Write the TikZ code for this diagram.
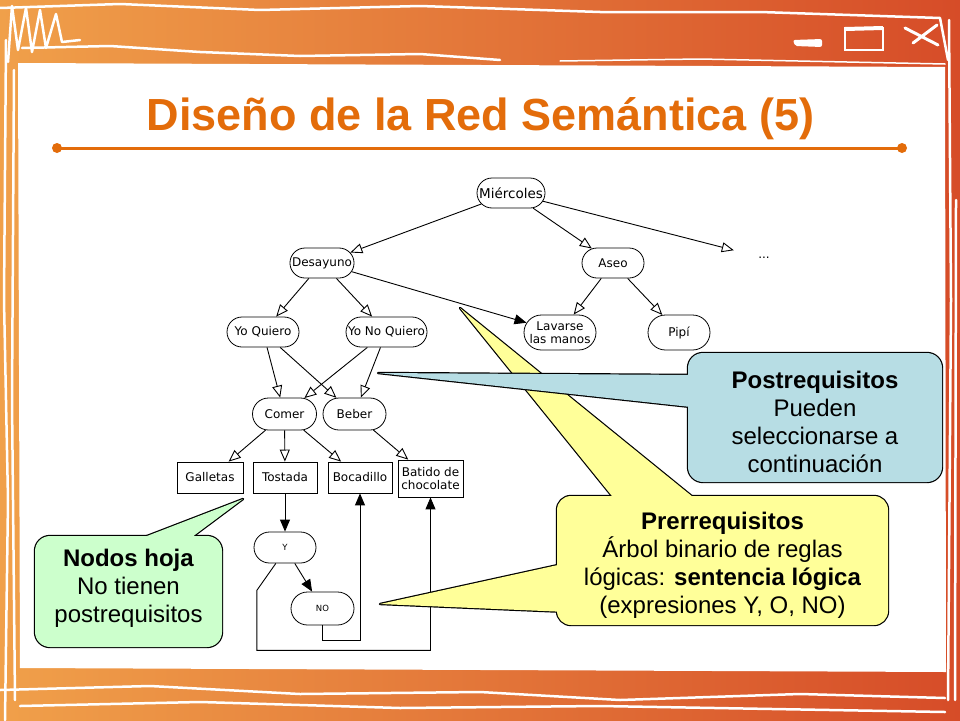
\documentclass[tikz,border=0pt]{standalone}
\usepackage{fontspec}
\setmainfont{Liberation Sans}
\newfontfamily\verdana{DejaVu Sans}
\usetikzlibrary{arrows.meta,shapes.misc}
\definecolor{naranja}{RGB}{227,108,10}
\definecolor{fondoizq}{RGB}{240,160,74}
\definecolor{fondomed}{RGB}{226,98,48}
\definecolor{fondoder}{RGB}{214,76,40}
\definecolor{amarillo}{RGB}{255,255,153}
\definecolor{celeste}{RGB}{183,221,228}
\definecolor{verdeclaro}{RGB}{204,255,204}

\begin{document}
\begin{tikzpicture}[x=1pt, y=-1pt,
	concepto/.style={rounded rectangle, draw, line width=0.8pt, inner sep=1pt, minimum height=30pt, align=center, font={\verdana\fontsize{12}{13.5}\selectfont}},
	hoja/.style={rectangle, draw, line width=0.8pt, inner sep=1pt, minimum height=31pt, align=center, font={\verdana\fontsize{12}{13.5}\selectfont}},
	logico/.style={concepto, font={\verdana\fontsize{8.5}{10}\selectfont}},
	hueca/.style={line width=0.9pt, -{Triangle[fill=white, length=12pt, width=10pt]}},
	llena/.style={line width=0.9pt, -{Triangle[length=12pt, width=10pt]}},
	trazo/.style={white, line width=2.5pt, line cap=round, line join=round},
	borde/.style={line width=2.4pt, line join=round},
	globo/.style={align=center, font={\fontsize{24}{28}\selectfont}}]
	\useasboundingbox (0,0) rectangle (960,720);
	\shade[left color=fondoizq, middle color=fondomed, right color=fondoder] (0,0) rectangle (960,720);
	\fill[white] (18,63) -- (945,67) -- (946,672) -- (20,668) -- cycle;
	\draw[trazo] (0,8) -- (120,4) -- (260,10) -- (420,6) -- (600,12) -- (760,12) -- (940,18) -- (948,60);
	\draw[trazo] (22,48) -- (110,46) -- (200,52) -- (300,56) -- (420,54) -- (500,60);
	\draw[trazo, line width=1.5pt] (560,61) -- (700,59) -- (945,64);
	\draw[trazo] (0,690) -- (150,686) -- (300,694) -- (480,692) -- (620,700) -- (800,694) -- (945,698);
	\draw[trazo] (20,706) -- (200,702) -- (400,708) -- (600,706) -- (945,712);
	\draw[trazo] (6,40) -- (4,300) -- (8,500) -- (5,720);
	\draw[trazo] (14,70) -- (12,400) -- (15,700);
	\draw[trazo] (949,20) -- (951,300) -- (948,700);
	\draw[trazo] (956,200) -- (955,700);
	\draw[trazo] (8,62) -- (12,6) -- (18,50) -- (26,8) -- (32,52) -- (40,10) -- (46,48) -- (56,14) -- (62,42) -- (80,40);
	\fill[white, rounded corners=2pt] (793,40) -- (822,39) -- (822,47) -- (795,46) -- cycle;
	\draw[white, line width=2.5pt] (845,28) rectangle (883,50);
	\draw[white, line width=4pt] (845,29) -- (883,28);
	\draw[white, line width=3pt, line cap=round] (905,28) -- (938,45) (937,25) -- (913,43);

	\node[anchor=base, text=naranja, font={\fontsize{45}{54}\selectfont\bfseries}] (titulo) at (480.5,130) {Diseño de la Red Semántica (5)};
	\coordinate (lineaizq) at (57,148);
	\coordinate (lineader) at (902,148);
	\draw[naranja, line width=3pt] (lineaizq) -- (lineader);
	\fill[naranja] (lineaizq) circle (5) (lineader) circle (5);

	\node[concepto, minimum width=70pt, font={\verdana\fontsize{13.5}{15}\selectfont}] (miercoles) at (511,193) {Miércoles};
	\node[concepto, minimum width=64pt] (desayuno) at (322,263) {Desayuno};
	\node[concepto, minimum width=64pt] (aseo) at (613,263) {Aseo};
	\node[minimum width=60pt, minimum height=30pt, font={\verdana\fontsize{12}{13.5}\selectfont}] (resto) at (764,258) {...};
	\node[concepto, minimum width=74pt] (quiero) at (263,332) {Yo Quiero};
	\node[concepto, minimum width=83pt] (noquiero) at (386.5,332) {Yo No Quiero};
	\node[concepto, minimum width=74pt, minimum height=35pt] (lavarse) at (560,332.5) {Lavarse\\las manos};
	\node[concepto, minimum width=64pt, minimum height=35pt] (pipi) at (679,332.5) {Pipí};
	\node[concepto, minimum width=66pt, minimum height=32pt] (comer) at (284.5,414) {Comer};
	\node[concepto, minimum width=65pt, minimum height=32pt] (beber) at (354.5,414) {Beber};
	\node[hoja, minimum width=66pt] (galletas) at (210,477.5) {Galletas};
	\node[hoja, minimum width=64pt] (tostada) at (285,477.5) {Tostada};
	\node[hoja, minimum width=64pt] (bocadillo) at (360,477.5) {Bocadillo};
	\node[hoja, minimum width=65pt, minimum height=37pt] (batido) at (430.5,478.5) {Batido de\\chocolate};
	\node[logico, minimum width=64pt, minimum height=31pt] (opy) at (285,547.5) {Y};
	\node[logico, minimum width=65pt, minimum height=33pt] (opno) at (322.5,608.5) {NO};

	\draw[hueca] (miercoles) -- (desayuno);
	\draw[hueca] (miercoles) -- (aseo);
	\draw[hueca] (miercoles) -- (resto);
	\draw[hueca] (desayuno) -- (quiero);
	\draw[hueca] (desayuno) -- (noquiero);
	\draw[llena] (desayuno) -- (lavarse);
	\draw[hueca] (aseo) -- (lavarse);
	\draw[hueca] (aseo) -- (pipi);
	\draw[hueca] (quiero) -- (comer);
	\draw[hueca] (quiero) -- (beber);
	\draw[hueca] (noquiero) -- (comer);
	\draw[hueca] (noquiero) -- (beber);
	\draw[hueca] (comer) -- (galletas);
	\draw[hueca] (comer) -- (tostada);
	\draw[hueca] (comer) -- (bocadillo);
	\draw[hueca] (beber) -- (batido);
	\draw[llena] (tostada) -- (opy);
	\draw[llena] (opy) -- (opno);
	\draw[llena] (opno.south) -- ++(0,15) -| (bocadillo.south);
	\draw[llena] (opy.240) -- ++(-19,27) -- ++(0,60) -| (batido.south);

	\draw[borde, rounded corners=14pt] (557,496) rectangle (888,625);
	\draw[borde] (460,308) -- (620,506) -- (704,506) -- cycle;
	\draw[borde] (380,604) -- (567,563) -- (567,612) -- cycle;
	\fill[amarillo, rounded corners=14pt] (557,496) rectangle (888,625);
	\fill[amarillo] (460,308) -- (620,506) -- (704,506) -- cycle;
	\fill[amarillo] (380,604) -- (567,563) -- (567,612) -- cycle;

	\draw[borde, rounded corners=15pt] (688,353) rectangle (942,482);
	\draw[borde] (378,373) -- (700,375) -- (700,408) -- cycle;
	\fill[celeste, rounded corners=15pt] (688,353) rectangle (942,482);
	\fill[celeste] (378,373) -- (700,375) -- (700,408) -- cycle;

	\draw[borde, rounded corners=15pt] (35,536) rectangle (222,647);
	\draw[borde] (243,499) -- (121,546) -- (180,546) -- cycle;
	\fill[verdeclaro, rounded corners=15pt] (35,536) rectangle (222,647);
	\fill[verdeclaro] (243,499) -- (121,546) -- (180,546) -- cycle;

	\node[globo] (post) at (815,422) {\textbf{Postrequisitos}\\Pueden\\seleccionarse a\\continuación};
	\node[globo] (pre) at (722.5,565) {\textbf{Prerrequisitos}\\Árbol binario de reglas\\lógicas: \textbf{sentencia lógica}\\(expresiones Y, O, NO)};
	\node[globo] (hojas) at (128.5,588) {\textbf{Nodos hoja}\\No tienen\\postrequisitos};
\end{tikzpicture}
\end{document}
